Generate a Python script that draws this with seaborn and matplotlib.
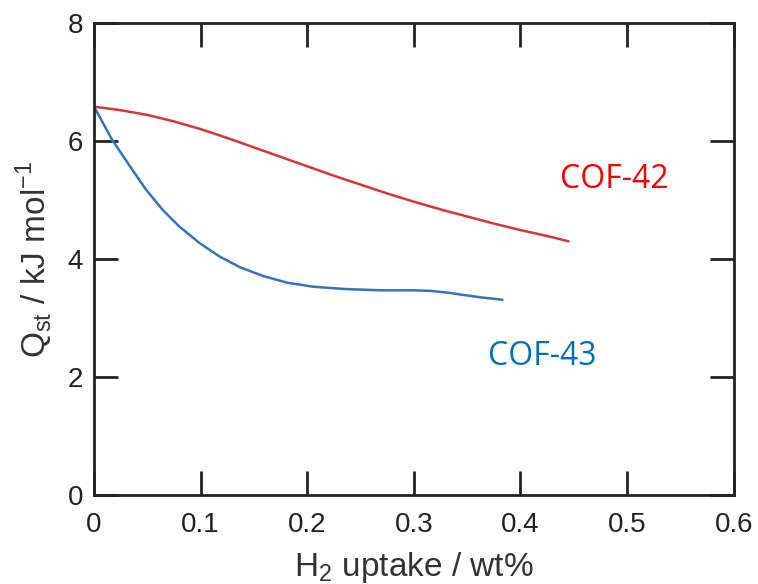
import pandas as pd
import numpy as np
import matplotlib
matplotlib.use('Agg')
import matplotlib.pyplot as plt
import seaborn as sns

# --- DATA ---
cof42_uptake = [0.0, 0.025, 0.05, 0.075, 0.1, 0.125, 0.15, 0.175, 0.2, 0.225,
                0.25, 0.275, 0.3, 0.325, 0.35, 0.375, 0.4, 0.425, 0.445]
cof42_qst = [6.58, 6.52, 6.44, 6.33, 6.20, 6.05, 5.89, 5.73, 5.57, 5.41,
             5.26, 5.11, 4.97, 4.84, 4.72, 4.60, 4.49, 4.39, 4.30]

cof43_uptake = [0.0, 0.017, 0.033, 0.049, 0.0645, 0.08, 0.099, 0.118, 0.137, 0.159,
                0.181, 0.206, 0.237, 0.269, 0.300, 0.316, 0.332, 0.347, 0.363, 0.383]
cof43_qst = [6.58, 6.02, 5.59, 5.17, 4.83, 4.55, 4.27, 4.04, 3.86, 3.71,
             3.60, 3.53, 3.49, 3.47, 3.47, 3.46, 3.43, 3.39, 3.35, 3.31]

labels = ['COF-42', 'COF-43']

x_ticks = [0, 0.1, 0.2, 0.3, 0.4, 0.5, 0.6]
x_ticklabels = ['0', '0.1', '0.2', '0.3', '0.4', '0.5', '0.6']
y_ticks = [0, 2, 4, 6, 8]

df = pd.concat([
    pd.DataFrame({'uptake': cof42_uptake, 'qst': cof42_qst, 'COF': labels[0]}),
    pd.DataFrame({'uptake': cof43_uptake, 'qst': cof43_qst, 'COF': labels[1]}),
])

sns.set_style('ticks')
plt.rcParams['font.family'] = ['Liberation Sans', 'DejaVu Sans']
plt.rcParams['mathtext.fontset'] = 'custom'
plt.rcParams['mathtext.rm'] = 'Liberation Sans'

fig, ax = plt.subplots(figsize=(7.58, 5.84), dpi=100)
fig.subplots_adjust(left=0.124, right=0.968, top=0.961, bottom=0.152)

sns.lineplot(data=df, x='uptake', y='qst', hue='COF', sort=False,
             palette={'COF-42': '#d93535', 'COF-43': '#3374c0'},
             linewidth=1.8, legend=False, ax=ax)

ax.set_xlim(0, 0.6)
ax.set_ylim(0, 8)
ax.set_xticks(x_ticks)
ax.set_xticklabels(x_ticklabels)
ax.set_yticks(y_ticks)
ax.tick_params(direction='in', length=17, width=2, top=True, right=True,
               labelsize=20, colors='#222222', pad=8)
ax.tick_params(axis='x', pad=12)
for s in ax.spines.values():
    s.set_linewidth(2)
    s.set_color('#222222')

ax.set_xlabel('H$_2$ uptake / wt%', fontsize=24, color='#333333', labelpad=9)
ax.set_ylabel('Q$_{\\mathrm{st}}$ / kJ mol$^{\\mathrm{\u22121}}$', fontsize=24,
              color='#333333', labelpad=9)

ax.text(0.488, 5.34, 'COF-42', color='#ff0000', fontsize=23,
        family=['Open Sans', 'DejaVu Sans'], ha='center', va='center')
ax.text(0.42, 2.35, 'COF-43', color='#0070c0', fontsize=23,
        family=['Open Sans', 'DejaVu Sans'], ha='center', va='center')

plt.savefig('out.png', dpi=100)
